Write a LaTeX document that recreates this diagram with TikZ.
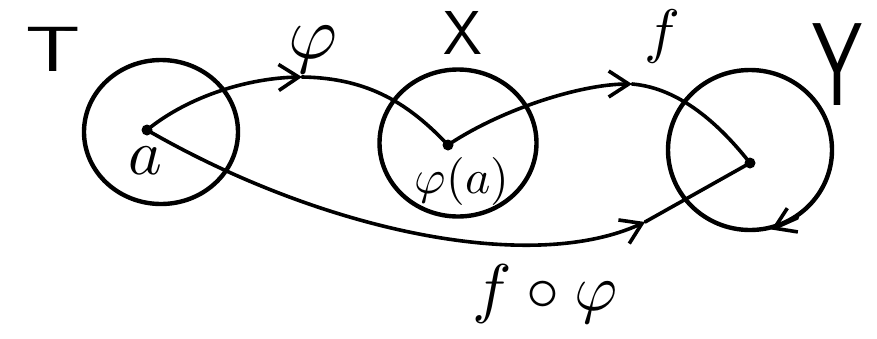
\documentclass[tikz,border=0pt]{standalone}
\usepackage{graphicx}
\usetikzlibrary{arrows.meta,shapes.geometric}
\begin{document}
\begin{tikzpicture}[x=1pt,y=-1pt,
  stroke/.style={line width=3.6pt, line cap=round, line join=round},
  ring/.style={draw, line width=4.4pt, ellipse, inner sep=0pt},
  dotnode/.style={circle, fill, inner sep=0pt, minimum size=11pt},
  barb/.style={-{Straight Barb[length=20pt,width=26pt,line width=3.6pt]}},
  lab/.style={inner sep=0pt}
]
\useasboundingbox (0,0) rectangle (877,338);
% sets
\node[ring, minimum width=154pt, minimum height=144pt] (T) at (161,132) {};
\node[ring, minimum width=157pt, minimum height=147pt] (X) at (458,143) {};
\node[ring, minimum width=164pt, minimum height=160pt] (Y) at (750,150) {};
% points
\node[dotnode] (a) at (147,130) {};
\node[dotnode] (pa) at (448,145) {};
\node[dotnode] (y) at (750,163) {};
\coordinate (m1) at (302,77);
\coordinate (m2) at (632,84);
\coordinate (m3) at (645,222);
% phi
\draw[stroke, barb] (a.center) .. controls (190,95) and (250,78) .. (m1);
\draw[stroke] (m1) .. controls (370,78) and (410,105) .. (pa.center);
% f
\draw[stroke, barb] (pa.center) .. controls (500,110) and (580,84) .. (m2);
\draw[stroke] (m2) .. controls (680,88) and (720,125) .. (y.center);
% f o phi
\draw[stroke, barb] (a.center) .. controls (320,230) and (530,275) .. (m3);
\draw[stroke] (m3) -- (y.center);
% arrow on Y
\draw[stroke, barb] (Y.-55) -- (Y.-75);
% labels
\node[lab, font=\sffamily\fontsize{64}{64}\selectfont] (lT) at (53,49) {\scalebox{1.35}[1]{T}};
\node[lab, font=\sffamily\fontsize{62}{62}\selectfont] (lX) at (463,33) {X};
\node[lab, font=\sffamily\fontsize{100}{100}\selectfont] (lY) at (837,65) {\scalebox{0.8}[1.18]{Y}};
\node[lab] (lphi) at (313,50) {\scalebox{7.5}{$\varphi$}};
\node[lab] (lf) at (662,36) {\scalebox{6}{$f$}};
\node[lab] (la) at (145,161) {\scalebox{6.4}{$a$}};
\node[lab] (lpa) at (462,181) {\scalebox{4.8}{$\varphi(a)$}};
\node[lab] (lfp) at (545,294) {\scalebox{6.6}{$f\circ\varphi$}};
\end{tikzpicture}
\end{document}
